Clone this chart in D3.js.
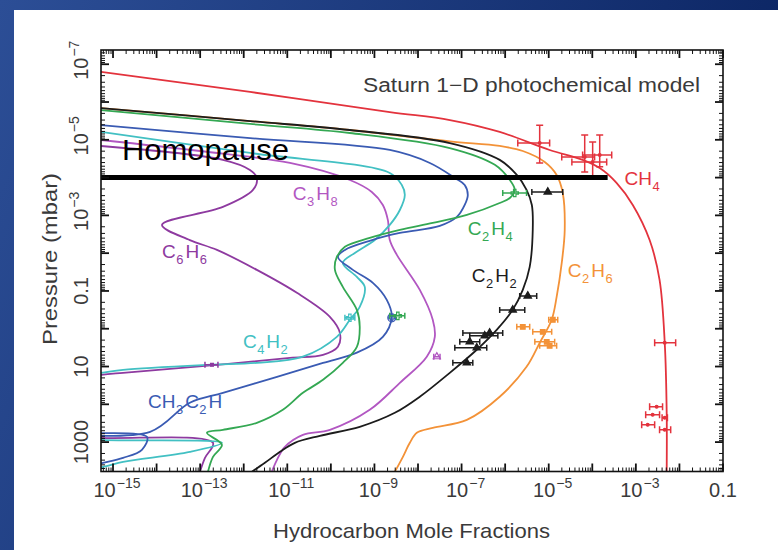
<!DOCTYPE html>
<html>
<head>
<meta charset="utf-8">
<script src="https://cdn.jsdelivr.net/npm/d3@7"></script>
<style>
  html, body { margin: 0; padding: 0; background: #fff; }
  svg { display: block; }
</style>
</head>
<body>
<svg id="chart" width="778" height="550"></svg>
<script>
// ---- Model profiles: [pressure (mbar), mole fraction] ----
const ch4Profile = [
  [1.6e-7, 5.3e-16], [5.4e-7, 1.4e-12], [1.84e-6, 2.25e-9], [3.0e-6, 5.4e-8],
  [6.2e-6, 7.5e-7], [1.86e-5, 1.05e-5], [3.4e-5, 6.0e-5], [5.6e-5, 1.48e-4],
  [1.38e-4, 3.6e-4], [5.3e-4, 8.5e-4], [4.5e-3, 2.07e-3], [0.051, 3.5e-3],
  [2.36, 4.6e-3], [168, 5.1e-3], [6100, 5.1e-3]
];
const c2h2Profile = [
  [1.45e-6, 5.3e-16], [3.2e-6, 1.4e-12], [5.5e-6, 2.73e-10], [1.22e-5, 5.36e-8],
  [3.4e-5, 7.5e-7], [8.5e-5, 1.85e-6], [2.12e-4, 3.1e-6], [5.3e-4, 4.1e-6],
  [2.43e-3, 4.3e-6], [0.0231, 3.66e-6], [0.094, 2.54e-6], [0.317, 1.49e-6],
  [1.07, 6.4e-7], [3.6, 2.23e-7], [14.7, 5.36e-8], [63, 1.1e-8], [168, 2.94e-9],
  [394, 4.6e-10], [682, 5.6e-11], [1045, 1.49e-11], [1810, 6.8e-12],
  [3530, 3.06e-12], [6100, 1.54e-12]
];
const c2h4Profile = [
  [1.63e-6, 5.3e-16], [3.8e-6, 1.4e-12], [6.6e-6, 2.73e-10], [1.65e-5, 5.36e-8],
  [4.6e-5, 5.8e-7], [1.16e-4, 1.28e-6], [2.12e-4, 1.66e-6], [3.46e-4, 1.28e-6],
  [4.7e-4, 7.5e-7], [9.75e-4, 1.32e-7], [1.58e-3, 2.18e-8], [2.43e-3, 3.83e-9],
  [3.95e-3, 7.8e-10], [6.8e-3, 2.1e-10], [0.0126, 1.37e-10], [0.0277, 1.24e-10],
  [0.078, 1.88e-10], [0.317, 3.95e-10], [0.89, 4.6e-10], [3.0, 3.95e-10],
  [8.0, 1.88e-10], [22.5, 6.6e-11], [49.7, 2.28e-11], [140, 7.9e-12],
  [309, 2.0e-12], [473, 3.33e-13], [568, 1.43e-13], [1180, 3.16e-13],
  [2450, 1.97e-13], [6100, 1.51e-13]
];
const c2h6Profile = [
  [1.45e-6, 5.3e-16], [3.2e-6, 1.4e-12], [5.5e-6, 2.73e-10], [1.1e-5, 5.36e-8],
  [1.45e-5, 7.5e-7], [1.98e-5, 2.54e-6], [3.86e-5, 8.1e-6], [8.5e-5, 1.52e-5],
  [2.55e-4, 2.1e-5], [2.43e-3, 2.33e-5], [0.0181, 1.99e-5], [0.144, 1.52e-5],
  [0.58, 1.17e-5], [2.36, 6.2e-6], [10.2, 3.1e-6], [63, 7.5e-7], [258, 1.32e-7],
  [419, 2.18e-8], [568, 9.4e-9], [1045, 6.5e-9], [2450, 4.5e-9], [6100, 2.94e-9]
];
const c3h8Profile = [
  [1.01e-5, 5.3e-16], [1.98e-5, 9.9e-14], [4.1e-5, 1.15e-11], [1.16e-4, 2.73e-10],
  [2.4e-4, 8.7e-10], [5.3e-4, 1.56e-9], [1.32e-3, 2.03e-9], [4.5e-3, 2.25e-9],
  [0.0111, 3.27e-9], [0.094, 1.1e-8], [0.58, 2.18e-8], [1.64, 2.43e-8],
  [5.5, 1.59e-8], [27, 3.83e-9], [140, 7.8e-10], [473, 9.5e-11], [641, 2.28e-11],
  [1330, 8.8e-12], [2940, 5.8e-12], [6100, 4.4e-12]
];
const c6h6Profile = [
  [1.46e-5, 5.3e-16], [3.4e-5, 3.33e-13], [6.3e-5, 1.39e-12], [1.02e-4, 2.0e-12],
  [2.12e-4, 1.63e-12], [5.98e-4, 3.33e-13], [1.79e-3, 1.33e-14], [4.5e-3, 5.8e-14],
  [8.2e-3, 2.43e-13], [0.0277, 2.0e-12], [0.112, 1.66e-11], [0.485, 9.5e-11],
  [1.29, 1.61e-10], [3.0, 1.45e-10], [4.9, 6.6e-11], [5.9, 1.15e-11],
  [9.0, 2.43e-13], [14.7, 1.7e-15], [16.6, 5.3e-16], [22, 6e-17], [650, 6e-17],
  [771, 5.3e-16], [1045, 1.97e-13], [2610, 1.29e-13], [6100, 9.9e-14]
];
const c4h2Profile = [
  [6.2e-6, 5.3e-16], [2.23e-5, 1.4e-12], [7.55e-5, 2.25e-9], [1.57e-4, 4.25e-9],
  [2.88e-4, 4.98e-9], [7.2e-4, 3.83e-9], [1.79e-3, 2.25e-9], [4.5e-3, 1.02e-9],
  [9.85e-3, 3.55e-10], [0.0181, 1.88e-10], [0.0425, 3.95e-10], [0.078, 6.0e-10],
  [0.264, 4.6e-10], [0.58, 2.73e-10], [1.64, 1.37e-10], [5.5, 2.28e-11],
  [8.0, 2.0e-12], [9.0, 1.43e-13], [12.2, 1.7e-15], [14.7, 5.3e-16], [20, 6e-17],
  [700, 6e-17], [871, 5.3e-16], [1045, 3.16e-13], [1810, 5.8e-14],
  [3330, 1.7e-15], [4510, 5.9e-16], [6100, 6.1e-17]
];
const ch3c2hProfile = [
  [4.1e-6, 5.3e-16], [9.0e-6, 1.4e-12], [1.86e-5, 2.25e-9], [4.1e-5, 1.87e-8],
  [1.02e-4, 7.0e-8], [1.57e-4, 1.18e-7], [2.88e-4, 1.39e-7], [5.3e-4, 1.18e-7],
  [1.1e-3, 7.8e-8], [1.9e-3, 3.16e-8], [2.92e-3, 3.83e-9], [4.7e-3, 7.8e-10],
  [8.2e-3, 2.1e-10], [0.0126, 1.45e-10], [0.0277, 3.2e-10], [0.061, 9.2e-10],
  [0.172, 1.92e-9], [0.485, 2.5e-9], [1.64, 1.56e-9], [4.3, 3.95e-10],
  [8.0, 6.6e-11], [18.7, 5.8e-12], [49.7, 3.33e-13], [91, 5.8e-14],
  [535, 7.1e-15], [641, 6.1e-17], [724, 6.0e-15], [1600, 4.6e-15],
  [2610, 1.7e-15], [3530, 5.9e-16], [4790, 1.75e-16]
];

// ---- Observations: [pressure, fraction, fraction low, fraction high, pressure low, pressure high] ----
const ch4Obs = [
  [1.22e-5, 6.2e-6, 1.95e-6, 1.05e-5, 4.1e-6, 4.1e-5],
  [2.85e-5, 6.7e-5, 1.99e-5, 1.13e-4, 7.5e-6, 7.1e-5],
  [3.86e-5, 1.02e-4, 3.4e-5, 2.14e-4, 1.14e-5, 9.6e-5],
  [2.52e-5, 1.48e-4, 6.0e-5, 2.79e-4, 7.5e-6, 5.2e-5],
  [2.36, 4.6e-3, 2.7e-3, 8.2e-3],
  [116, 3.0e-3, 2.07e-3, 4.1e-3],
  [190, 2.43e-3, 1.68e-3, 3.5e-3],
  [228, 4.6e-3, 4.0e-3, 5.3e-3],
  [349, 1.87e-3, 1.36e-3, 2.7e-3],
  [473, 4.6e-3, 3.5e-3, 6.3e-3]
];
const c2h2Obs = [
  [2.4e-4, 9.5e-6, 4.1e-6, 2.1e-5], [0.135, 3.3e-6, 2.16e-6, 5.3e-6],
  [0.317, 1.49e-6, 7.5e-7, 2.82e-6], [1.29, 4.4e-7, 1.07e-7, 8.8e-7],
  [1.54, 3.4e-7, 1.54e-7, 6.8e-7], [2.22, 1.54e-7, 9.1e-8, 2.61e-7],
  [3.2, 2.23e-7, 7.0e-8, 3.78e-7], [8.0, 1.32e-7, 6.3e-8, 1.81e-7]
];
const c2h6Obs = [
  [0.58, 1.24e-5, 1.0e-5, 1.61e-5], [0.89, 2.54e-6, 1.85e-6, 3.66e-6],
  [1.21, 7.3e-6, 4.3e-6, 1.17e-5], [2.22, 9.0e-6, 4.8e-6, 1.37e-5],
  [2.83, 1.05e-5, 6.2e-6, 1.52e-5]
];
const c2h4Obs = [[2.55e-4, 1.66e-6, 8.8e-7, 3.1e-6], [0.456, 3.44e-9, 2.25e-9, 4.98e-9]];
const c4h2Obs = [[0.515, 2.73e-10, 2.1e-10, 3.55e-10]];
const ch3c2hObs = [[0.515, 2.5e-9]];
const c6h6Obs = [[9.0, 1.87e-13, 1.29e-13, 2.56e-13]];
const c3h8Obs = [[5.5, 2.7e-8, 2.3e-8, 3.2e-8]];

// ---- Species names, colours and label anchors [pressure, fraction] ----
const speciesNames  = ["CH4", "C2H6", "C3H8", "C6H6", "C4H2", "CH3C2H", "C2H4", "C2H2"];
const speciesColors = ["#e3333d", "#f39238", "#b257c2", "#8e3aa0", "#42c0c3", "#3a5bb3", "#34a853", "#1c1c1c"];
const labelPressure = [1.57e-4, 0.0425, 3.9e-4, 0.0134, 3.2, 124, 3.3e-3, 0.0575];
const labelFraction = [5.5e-4, 2.73e-5, 1.34e-11, 1.33e-14, 9.6e-13, 6.35e-15, 1.39e-7, 1.71e-7];

// ---- Axis ticks ----
const xTickValues = [1e-15, 1e-13, 1e-11, 1e-9, 1e-7, 1e-5, 1e-3, 1e-1];
const xTickLabels = [["10","−15"],["10","−13"],["10","−11"],["10","−9"],["10","−7"],["10","−5"],["10","−3"],["0.1",""]];
const yTickValues = [1e-7, 1e-5, 1e-3, 0.1, 10, 1000];
const yTickLabels = [["10","−7"],["10","−5"],["10","−3"],["0.1",""],["10",""],["1000",""]];

// ---- Homopause ----
const homopausePressure = 1e-4;
const homopauseExtent = [5.3e-16, 2.25e-4];

const W = 778, H = 550;
const plot = { left: 101, right: 723, top: 50, bottom: 471.5 };
const textFont = "'Liberation Sans', Arial, sans-serif";
const textColor = "#3a3a3a";

const svg = d3.select("#chart");
const defs = svg.append("defs");

const grad = defs.append("linearGradient").attr("id", "bg")
  .attr("x1", "0").attr("y1", "0").attr("x2", "1").attr("y2", "0.3");
grad.append("stop").attr("offset", "0").attr("stop-color", "#2c4e96");
grad.append("stop").attr("offset", "1").attr("stop-color", "#0b2462");

defs.append("clipPath").attr("id", "plotClip").append("rect")
  .attr("x", plot.left).attr("y", plot.top)
  .attr("width", plot.right - plot.left).attr("height", plot.bottom - plot.top);

svg.append("rect").attr("width", W).attr("height", H).attr("fill", "url(#bg)");
svg.append("rect").attr("x", 14).attr("y", 10).attr("width", W - 14).attr("height", H - 10).attr("fill", "#fff");

const x = d3.scaleLog().domain([5.3e-16, 0.1]).range([plot.left, plot.right]);
const y = d3.scaleLog().domain([4.2e-8, 6000]).range([plot.top, plot.bottom]);

// ---- Model curves ----
const profiles = [ch4Profile, c2h6Profile, c3h8Profile, c6h6Profile, c4h2Profile, ch3c2hProfile, c2h4Profile, c2h2Profile];
const line = d3.line()
  .x(d => x(d[1]))
  .y(d => y(d[0]))
  .curve(d3.curveCatmullRom.alpha(0.5));

const curves = svg.append("g").attr("clip-path", "url(#plotClip)");
profiles.forEach((p, i) => {
  curves.append("path").datum(p)
    .attr("d", line)
    .attr("fill", "none")
    .attr("stroke", speciesColors[i])
    .attr("stroke-width", 1.8)
    .attr("stroke-linejoin", "round");
});

// ---- Observations with error bars ----
const obsLayer = svg.append("g").attr("clip-path", "url(#plotClip)");
function errorBars(data, color, cap) {
  data.forEach(d => {
    const cy = y(d[0]);
    if (d[2] !== undefined) {
      const x0 = x(d[2]), x1 = x(d[3]);
      obsLayer.append("line").attr("x1", x0).attr("x2", x1).attr("y1", cy).attr("y2", cy)
        .attr("stroke", color).attr("stroke-width", 1.5);
      [x0, x1].forEach(xx => obsLayer.append("line")
        .attr("x1", xx).attr("x2", xx).attr("y1", cy - cap).attr("y2", cy + cap)
        .attr("stroke", color).attr("stroke-width", 1.5));
    }
    if (d[4] !== undefined) {
      const cx = x(d[1]), y0 = y(d[4]), y1 = y(d[5]);
      obsLayer.append("line").attr("x1", cx).attr("x2", cx).attr("y1", y0).attr("y2", y1)
        .attr("stroke", color).attr("stroke-width", 1.5);
      [y0, y1].forEach(yy => obsLayer.append("line")
        .attr("x1", cx - cap).attr("x2", cx + cap).attr("y1", yy).attr("y2", yy)
        .attr("stroke", color).attr("stroke-width", 1.5));
    }
  });
}
function symbols(data, color, type, size, filled) {
  obsLayer.selectAll(null).data(data).enter().append("path")
    .attr("transform", d => `translate(${x(d[1])},${y(d[0])})`)
    .attr("d", d3.symbol().type(type).size(size))
    .attr("fill", filled ? color : "none")
    .attr("stroke", color).attr("stroke-width", 1.2);
}

errorBars(ch4Obs, speciesColors[0], 3.5);
symbols(ch4Obs, speciesColors[0], d3.symbolCircle, 6, true);
errorBars(c2h6Obs, speciesColors[1], 3);
symbols(c2h6Obs, speciesColors[1], d3.symbolSquare, 22, true);
errorBars(c3h8Obs, speciesColors[2], 3);
symbols(c3h8Obs, speciesColors[2], d3.symbolTriangle, 22, false);
errorBars(c6h6Obs, speciesColors[3], 3);
symbols(c6h6Obs, speciesColors[3], d3.symbolSquare, 8, true);
errorBars(c4h2Obs, speciesColors[4], 3);
symbols(c4h2Obs, speciesColors[4], d3.symbolCross, 30, false);
symbols(ch3c2hObs, speciesColors[5], d3.symbolCircle, 50, false);
symbols(ch3c2hObs, speciesColors[5], d3.symbolCross, 20, false);
errorBars(c2h4Obs, speciesColors[6], 3);
symbols(c2h4Obs, speciesColors[6], d3.symbolCross, 30, false);
errorBars(c2h2Obs, speciesColors[7], 3);
symbols(c2h2Obs, speciesColors[7], d3.symbolTriangle, 24, true);

// ---- Species labels with subscripts ----
function chemLabel(sel, name, size) {
  name.split(/(\d+)/).filter(s => s.length).forEach(part => {
    if (/^\d+$/.test(part)) {
      sel.append("tspan").text(part).attr("font-size", size * 0.68).attr("dy", size * 0.3).attr("dx", 0.5);
    } else {
      const t = sel.append("tspan").text(part).attr("font-size", size);
      if (sel.node().childNodes.length > 1) t.attr("dy", -size * 0.3).attr("dx", 2);
    }
  });
}
speciesNames.forEach((n, i) => {
  const t = svg.append("text")
    .attr("x", x(labelFraction[i])).attr("y", y(labelPressure[i]))
    .attr("fill", speciesColors[i])
    .attr("font-family", textFont);
  chemLabel(t, n, 19);
});

// ---- Homopause ----
svg.append("line")
  .attr("x1", x(homopauseExtent[0])).attr("x2", x(homopauseExtent[1]))
  .attr("y1", y(homopausePressure)).attr("y2", y(homopausePressure))
  .attr("stroke", "#000").attr("stroke-width", 5);
svg.append("text").text("Homopause")
  .attr("x", x(1.6e-15)).attr("y", y(3.4e-5))
  .attr("font-family", "'Liberation Sans', Arial, sans-serif")
  .attr("font-size", 29).attr("fill", "#000")
  .attr("textLength", 167).attr("lengthAdjust", "spacingAndGlyphs");

// ---- Frame and log ticks on all four sides ----
const axes = svg.append("g").attr("stroke", "#111");
axes.append("rect")
  .attr("x", plot.left).attr("y", plot.top)
  .attr("width", plot.right - plot.left).attr("height", plot.bottom - plot.top)
  .attr("fill", "none").attr("stroke-width", 1.6);

function logTicks(scale) {
  const [a, b] = scale.domain();
  const out = [];
  for (let e = Math.floor(Math.log10(a)); e <= Math.ceil(Math.log10(b)); e++) {
    for (let m = 1; m <= 9; m++) {
      const v = m * Math.pow(10, e);
      if (v >= a * 0.999 && v <= b * 1.001) out.push({ v, major: m === 1 });
    }
  }
  return out;
}
logTicks(x).forEach(t => {
  const px = x(t.v), len = t.major ? 8 : 4, w = t.major ? 1.8 : 1;
  axes.append("line").attr("x1", px).attr("x2", px).attr("y1", plot.bottom).attr("y2", plot.bottom - len).attr("stroke-width", w);
  axes.append("line").attr("x1", px).attr("x2", px).attr("y1", plot.top).attr("y2", plot.top + len).attr("stroke-width", w);
});
logTicks(y).forEach(t => {
  const py = y(t.v), len = t.major ? 8 : 4, w = t.major ? 1.8 : 1;
  axes.append("line").attr("y1", py).attr("y2", py).attr("x1", plot.left).attr("x2", plot.left + len).attr("stroke-width", w);
  axes.append("line").attr("y1", py).attr("y2", py).attr("x1", plot.right).attr("x2", plot.right - len).attr("stroke-width", w);
});

// ---- Tick labels ----
function tickLabel(sel, parts) {
  sel.append("tspan").text(parts[0]).attr("font-size", 20);
  if (parts[1]) sel.append("tspan").text(parts[1]).attr("font-size", 14).attr("dy", -9).attr("dx", 1);
}
xTickValues.forEach((v, i) => {
  const t = svg.append("text")
    .attr("x", x(v) + (xTickLabels[i][1] ? 4 : 0)).attr("y", 497)
    .attr("text-anchor", "middle").attr("fill", textColor).attr("font-family", textFont);
  tickLabel(t, xTickLabels[i]);
});
yTickValues.forEach((v, i) => {
  const t = svg.append("text")
    .attr("transform", `translate(88,${y(v)}) rotate(-90)`)
    .attr("x", yTickLabels[i][1] ? 4 : 0)
    .attr("text-anchor", "middle").attr("fill", textColor).attr("font-family", textFont);
  tickLabel(t, yTickLabels[i]);
});

// ---- Titles ----
svg.append("text").text("Hydrocarbon Mole Fractions")
  .attr("x", 411.5).attr("y", 538).attr("text-anchor", "middle")
  .attr("font-family", textFont).attr("font-size", 21).attr("fill", textColor)
  .attr("textLength", 277).attr("lengthAdjust", "spacingAndGlyphs");
svg.append("text").text("Pressure (mbar)")
  .attr("transform", "translate(57,259) rotate(-90)").attr("text-anchor", "middle")
  .attr("font-family", textFont).attr("font-size", 21).attr("fill", textColor)
  .attr("textLength", 172).attr("lengthAdjust", "spacingAndGlyphs");
svg.append("text").text("Saturn 1−D photochemical model")
  .attr("x", 363).attr("y", 92)
  .attr("font-family", textFont).attr("font-size", 20).attr("fill", textColor)
  .attr("textLength", 337).attr("lengthAdjust", "spacingAndGlyphs");
</script>
</body>
</html>
